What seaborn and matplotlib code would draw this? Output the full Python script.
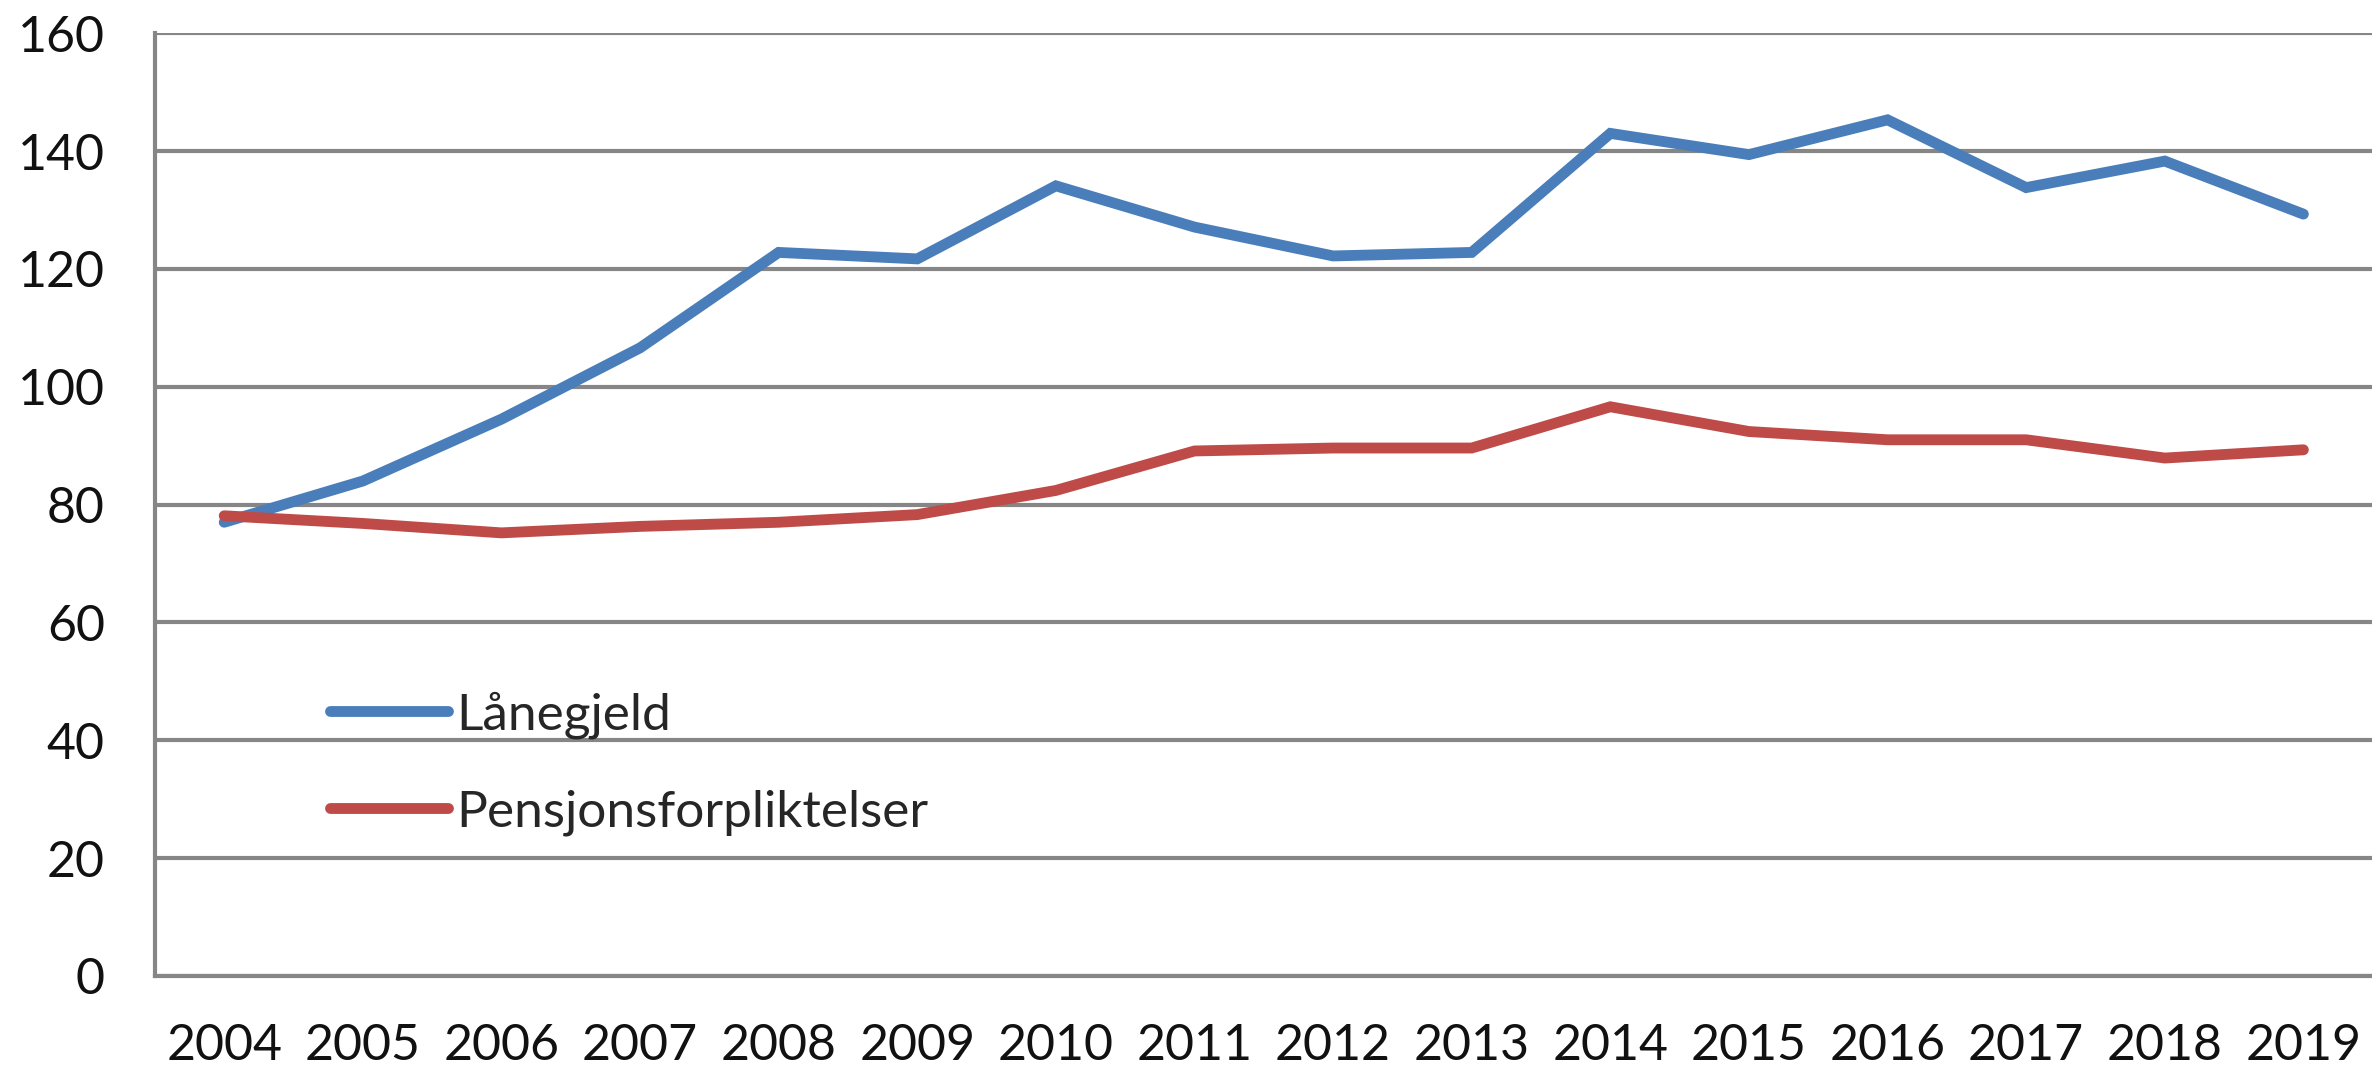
import pandas as pd
import matplotlib
matplotlib.use("Agg")
import matplotlib.pyplot as plt
import seaborn as sns

years = [str(y) for y in range(2004, 2020)]
lanegjeld = [77.0, 84.0, 94.5, 106.6, 122.8, 121.7, 134.1, 127.1,
             122.2, 122.8, 143.0, 139.4, 145.3, 133.8, 138.3, 129.3]
pensjon = [78.1, 76.8, 75.2, 76.3, 77.0, 78.3, 82.4, 89.1,
           89.6, 89.6, 96.6, 92.4, 91.0, 91.0, 87.9, 89.3]
series_names = ["Lånegjeld", "Pensjonsforpliktelser"]
colors = ["#4A7EBB", "#BE4B48"]

sns.set_style("white")
plt.rcParams['font.family'] = ['Lato', 'DejaVu Sans']

df = pd.DataFrame({
    "År": years * 2,
    "Verdi": lanegjeld + pensjon,
    "Serie": [series_names[0]] * len(years) + [series_names[1]] * len(years),
})
df["x"] = df["År"].map({y: i for i, y in enumerate(years)})

fig = plt.figure(figsize=(23.72, 10.72), dpi=100)
ax = fig.add_axes([0.0653, 0.0896, 0.935, 0.8794])

sns.lineplot(data=df, x="x", y="Verdi", hue="Serie", palette=colors,
             linewidth=7.8, ax=ax, legend=True)
for ln in ax.get_lines():
    ln.set_linewidth(7.8)
    ln.set_solid_capstyle("round")
    ln.set_solid_joinstyle("miter")

grid_col = "#868686"
ax.set_ylim(0, 160)
ax.set_xlim(-0.5, 15.5)
ax.set_yticks(range(0, 161, 20))
ax.set_xticks(range(len(years)))
ax.set_xticklabels(years)
ax.yaxis.grid(True, color=grid_col, linewidth=3)
ax.set_axisbelow(True)
for s in ["top", "right"]:
    ax.spines[s].set_visible(False)
for s in ["left", "bottom"]:
    ax.spines[s].set_color(grid_col)
    ax.spines[s].set_linewidth(3)
ax.tick_params(axis="both", length=0, labelsize=36, colors="#111111")
ax.tick_params(axis="x", pad=34)
ax.tick_params(axis="y", pad=36)
ax.set_xlabel("")
ax.set_ylabel("")

leg = ax.legend(loc="upper left", bbox_to_anchor=(0.079, 0.302), frameon=False,
                fontsize=37, handlelength=2.3, handletextpad=0.15,
                labelspacing=0.98, borderpad=0, borderaxespad=0)
for h in leg.get_lines():
    h.set_linewidth(7.8)
    h.set_solid_capstyle("round")

fig.savefig("out.png", dpi=100)
